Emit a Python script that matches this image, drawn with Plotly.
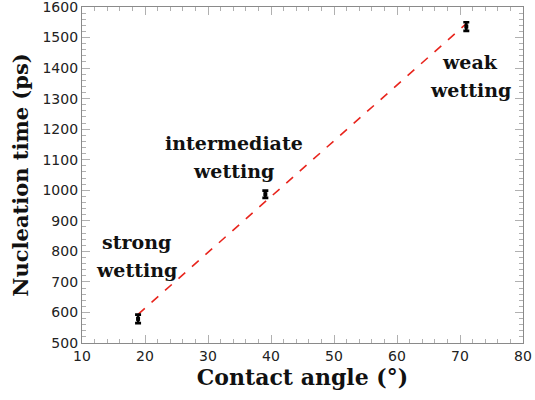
import numpy as np
import plotly.graph_objects as go

# Measured nucleation times for three surfaces
contact_angle = [18.9, 39.1, 71.0]          # degrees
nucleation_time = [579, 987, 1536]          # ps
time_error = [14, 12, 14]                   # ps
regime_labels = ["strong<br>wetting", "intermediate<br>wetting", "weak<br>wetting"]
label_x = [18.7, 34.1, 71.6]
label_y = [786, 1108, 1375]

# Linear fit through the measurements
slope, intercept = np.polyfit(contact_angle, nucleation_time, 1)
fit_x = np.array([min(contact_angle), max(contact_angle)])
fit_y = slope * fit_x + intercept

serif = "DejaVu Serif"

fig = go.Figure()
fig.add_trace(go.Scatter(
    x=fit_x, y=fit_y, mode="lines",
    line=dict(color="#e8241c", width=1.6, dash="dash"),
    hoverinfo="skip", showlegend=False,
))
fig.add_trace(go.Scatter(
    x=contact_angle, y=nucleation_time, mode="markers",
    marker=dict(color="black", size=4, symbol="square"),
    error_y=dict(type="data", array=time_error, color="black", thickness=2.6, width=3),
    showlegend=False,
))

# Two-line regime labels, each line placed separately for wider spacing
for tx, ty, t in zip(label_x, label_y, regime_labels):
    lines = t.split("<br>")
    for i, line in enumerate(lines):
        fig.add_annotation(
            x=tx, y=ty, text="<b>" + line + "</b>", showarrow=False,
            yshift=14 - 28 * i,
            font=dict(family=serif, size=19, color="#111111"),
        )

axis_common = dict(
    showgrid=False, zeroline=False, automargin=False,
    showline=True, linecolor="#8a8a8a", linewidth=1.3, mirror="ticks",
    ticks="inside", ticklen=8, tickcolor="#b0b0b0", tickwidth=1.3,
    tickfont=dict(family="DejaVu Sans", size=14, color="#222222"),
    ticklabeloverflow="allow",
)

fig.update_xaxes(
    range=[10, 80], dtick=10, tick0=10,
    minor=dict(ticks="inside", ticklen=4, dtick=2, tickcolor="#b0b0b0", tickwidth=1),
    title=dict(text="<b>Contact angle (°)</b>", font=dict(family=serif, size=22, color="#111111"), standoff=6),
    **axis_common,
)
fig.update_yaxes(
    range=[500, 1600], dtick=100, tick0=500,
    minor=dict(ticks="inside", ticklen=4, dtick=20, tickcolor="#b0b0b0", tickwidth=1),
    title=dict(text="<b>Nucleation time (ps)</b>", font=dict(family=serif, size=21, color="#111111"), standoff=8),
    **axis_common,
)

fig.update_layout(
    width=535, height=400,
    margin=dict(l=82, r=12, t=7, b=57),
    paper_bgcolor="white", plot_bgcolor="white",
)

fig.write_html("out.html")
